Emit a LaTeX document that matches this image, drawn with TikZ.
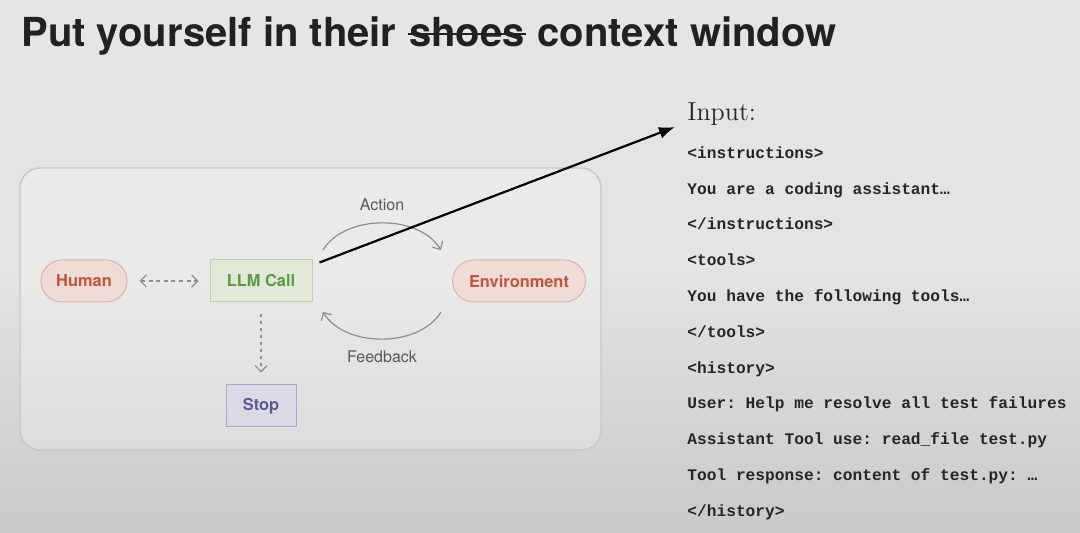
\documentclass[tikz,border=0pt]{standalone}
\usepackage{fontspec}
\usepackage{xcolor}
\usetikzlibrary{arrows.meta,positioning,calc}
\setsansfont{TeX Gyre Heros}
\setmonofont{Liberation Mono}
\definecolor{bgtop}{HTML}{E5E6E3}
\definecolor{bgbot}{HTML}{C9C9C7}
\definecolor{pillfill}{HTML}{EFDCD6}
\definecolor{pilldraw}{HTML}{D9B5AB}
\definecolor{pilltext}{HTML}{C4553B}
\definecolor{llmfill}{HTML}{DFE9D6}
\definecolor{llmdraw}{HTML}{B9D6A6}
\definecolor{llmtext}{HTML}{5D9A45}
\definecolor{stopfill}{HTML}{DCDBE5}
\definecolor{stopdraw}{HTML}{A9A6C9}
\definecolor{stoptext}{HTML}{5B5A99}
\definecolor{flowgray}{HTML}{8E8E8C}

\begin{document}
\begin{tikzpicture}[x=0.5pt,y=-0.5pt,
  ttl/.style={anchor=base west,inner sep=0pt,text=black!87,
    font=\sffamily\bfseries\fontsize{20}{24}\selectfont},
  pill/.style={draw=pilldraw,fill=pillfill,text=pilltext,rounded corners=10.5pt,
    minimum height=21pt,line width=0.5pt,font=\sffamily\bfseries\fontsize{8.2}{10}\selectfont},
  boxn/.style={draw,minimum height=21pt,line width=0.5pt,
    font=\sffamily\bfseries\fontsize{8.2}{10}\selectfont},
  lbl/.style={text=black!65,font=\sffamily\fontsize{8}{10}\selectfont},
  flow/.style={draw=flowgray,line width=0.6pt,-{Straight Barb[length=3pt,width=6pt]}},
  code/.style={inner sep=0pt,anchor=north west,text height=6.5pt,text depth=2pt,
    text=black!85,font=\ttfamily\bfseries\fontsize{8.1}{10}\selectfont}]
\useasboundingbox (0,0) rectangle (1080,533);
\shade[top color=bgtop,bottom color=bgbot,middle color=bgtop!96!bgbot]
  (0,0) rectangle (1080,533);

% title
\node[ttl] (t1) at (21,47) {Put yourself in their};
\node[ttl,anchor=base west] (t2) at ($(t1.base east)+(12,0)$) {shoes};
\node[ttl,anchor=base west] (t3) at ($(t2.base east)+(12,0)$) {context window};
\draw[line width=1.4pt,black!87] ($(t2.base west)+(-1,-13)$) -- ($(t2.base east)+(1,-13)$);

% agent loop panel
\draw[draw=black!22,fill=white,fill opacity=0.25,line width=0.7pt,rounded corners=10pt]
  (20,168) rectangle (601,450);
\node[pill,minimum width=43pt] (human) at (84,281) {Human};
\node[boxn,fill=llmfill,draw=llmdraw,text=llmtext,minimum width=51pt] (llm) at (261,281) {LLM Call};
\node[pill,minimum width=66.5pt] (env) at (519,281) {Environment};
\node[boxn,fill=stopfill,draw=stopdraw,text=stoptext,minimum width=35pt] (stop) at (261,406) {Stop};

\draw[flow,{Straight Barb[length=3pt,width=6pt]}-{Straight Barb[length=3pt,width=6pt]},
  dash pattern=on 2pt off 1.8pt,shorten <=6pt,shorten >=5.5pt] (human) -- (llm);
\draw[flow,dash pattern=on 1.5pt off 2pt,shorten <=6pt,shorten >=6pt] (llm) -- (stop);

\coordinate (actS) at (323,250);
\coordinate (actE) at (441,250);
\coordinate (fbS) at (441,312);
\coordinate (fbE) at (323,312);
\draw[flow] (actS) .. controls (345,214) and (419,214) .. (actE);
\draw[flow] (fbS) .. controls (419,348) and (345,348) .. (fbE);
\node[lbl] (action) at (382,205) {Action};
\node[lbl] (feedback) at (382,357) {Feedback};

% context window
\node[anchor=base west,inner sep=0pt,font=\fontsize{13}{15}\selectfont,text=black!85]
  (input) at (687,121) {Input:};
\node[code] (l1) at (687,145) {<instructions>};
\node[code,below right=9pt and 0pt of l1.south west] (l2) {You are a coding assistant…};
\node[code,below right=9pt and 0pt of l2.south west] (l3) {</instructions>};
\node[code,below right=9pt and 0pt of l3.south west] (l4) {<tools>};
\node[code,below right=9pt and 0pt of l4.south west] (l5) {You have the following tools…};
\node[code,below right=9pt and 0pt of l5.south west] (l6) {</tools>};
\node[code,below right=9pt and 0pt of l6.south west] (l7) {<history>};
\node[code,below right=9pt and 0pt of l7.south west] (l8) {User: Help me resolve all test failures};
\node[code,below right=9pt and 0pt of l8.south west] (l9) {Assistant Tool use: read\_file test.py};
\node[code,below right=9pt and 0pt of l9.south west] (l10) {Tool response: content of test.py: …};
\node[code,below right=9pt and 0pt of l10.south west] (l11) {</history>};

\coordinate (ctx) at (675,127);
\draw[line width=1.1pt,-{Latex[length=8pt,width=6pt]}] ($(llm.north east)+(7,3)$) -- (ctx);
\end{tikzpicture}
\end{document}
